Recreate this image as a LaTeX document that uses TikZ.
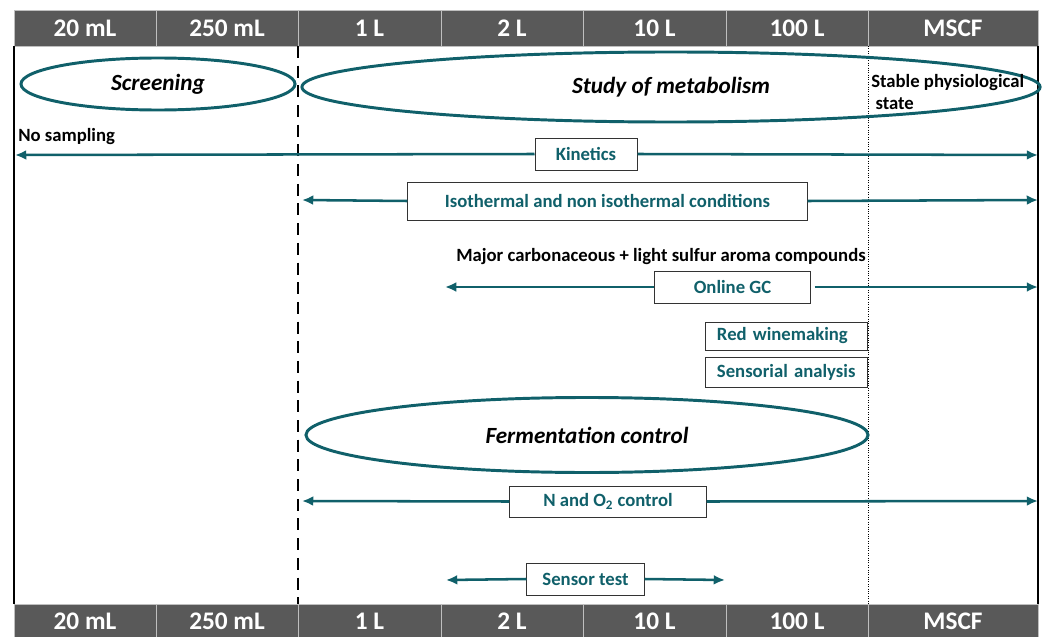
\documentclass[tikz,border=0pt]{standalone}
\usepackage{fontspec}
\setmainfont{Carlito}
\usepackage{tikz}
\usetikzlibrary{shapes,arrows,positioning,calc,arrows.meta}
\definecolor{wineteal}{RGB}{16,96,106}
\definecolor{bargray}{RGB}{89,89,89}
\tikzset{
  cellbox/.style={fill=bargray, draw=white!75!black, line width=0.6pt},
  celltext/.style={text=white, inner sep=0pt, font=\fontsize{18}{20}\selectfont\bfseries},
  phase/.style={ellipse, draw=wineteal, line width=2.1pt, inner sep=0pt, font=\fontsize{16.5}{18}\selectfont\bfseries\itshape},
  tagbox/.style={draw=black!80, fill=white, line width=0.7pt, text=wineteal, inner sep=0pt, font=\fontsize{13.3}{15}\selectfont\bfseries},
  note/.style={inner sep=0pt, font=\fontsize{13.3}{15}\selectfont\bfseries},
  arr/.style={draw=wineteal, line width=1.8pt, -{Latex[length=8pt,width=7pt]}},
}

\begin{document}
\begin{tikzpicture}[x=0.025cm, y=-0.025cm]
    \useasboundingbox (0,0) rectangle (1046,637);

    % volume scale, top and bottom
    \foreach \a/\b/\lab [count=\i] in {14/156/20 mL, 156/298/250 mL, 298/441/1 L, 441/583/2 L, 583/726/10 L, 726/868/100 L, 868/1038/MSCF} {
        \draw[cellbox] (\a,10) rectangle (\b,46);
        \node[celltext] (top\i) at ({(\a+\b)/2},28) {\lab};
        \draw[cellbox] (\b,637) rectangle (\a,604);
        \node[celltext] (bot\i) at ({(\a+\b)/2},621) {\lab};
    }

    % frame and limits
    \draw[line width=1.1pt] (14,46) -- (14,604);
    \draw[line width=1.1pt] (1038,46) -- (1038,604);
    \draw[line width=2pt, dash pattern=on 8.5pt off 5.5pt] (298,46) -- (298,604);
    \draw[line width=0.7pt, densely dotted] (868,46) -- (868,604);

    % phases
    \node[phase, minimum width=6.85cm, minimum height=1.3cm] (screen) at (158,84) {Screening};
    \node[phase, minimum width=18.45cm, minimum height=1.75cm] (metab) at (671,87) {Study of metabolism};
    \node[phase, minimum width=14.05cm, minimum height=1.875cm] (ferm) at (587,435) {Fermentation control};
    \node[note, anchor=west, align=left] (stable) at (871,92) {Stable physiological\\\hspace{3pt}state};

    % kinetics
    \node[note, anchor=west] (nosamp) at (18,137) {No sampling};
    \node[tagbox, minimum width=2.55cm, minimum height=0.8cm] (kin) at (586,154) {Kinetics};
    \coordinate (kinL) at (15,155);
    \coordinate (kinR) at (1038,155);
    \draw[arr] (kin.west) -- (kinL);
    \draw[arr] (kin.east) -- (kinR);

    % temperature
    \node[tagbox, minimum width=9.975cm, minimum height=0.95cm] (iso) at (607.5,201) {Isothermal and non isothermal conditions};
    \coordinate (isoL) at (302,200);
    \coordinate (isoR) at (1038,200);
    \draw[arr] (iso.west) -- (isoL);
    \draw[arr] (iso.east) -- (isoR);

    % aroma
    \node[note] (aroma) at (661,257) {Major carbonaceous + light sulfur aroma compounds};
    \node[tagbox, minimum width=3.875cm, minimum height=0.8cm] (gc) at (732.5,287) {Online GC};
    \coordinate (gcL) at (445,287);
    \coordinate (gcR) at (1038,287);
    \draw[arr] (gc.west) -- (gcL);
    \draw[arr] ([xshift=3pt]gc.east) -- (gcR);

    \node[tagbox, minimum width=4.025cm, minimum height=0.7cm, text width=3.475cm, inner xsep=0.275cm, align=left] (red) at (786.5,336) {Red winemaking};
    \node[tagbox, minimum width=4.025cm, minimum height=0.75cm, text width=3.475cm, inner xsep=0.275cm, align=left] (senso) at (786.5,372) {Sensorial analysis};

    % control
    \node[tagbox, minimum width=4.9cm, minimum height=0.775cm] (nox) at (608,501.5) {N and O\textsubscript{2} control};
    \coordinate (noxL) at (302,501);
    \coordinate (noxR) at (1038,501);
    \draw[arr] (nox.west) -- (noxL);
    \draw[arr] (nox.east) -- (noxR);

    \node[tagbox, minimum width=2.925cm, minimum height=0.8cm] (sens) at (585.5,579) {Sensor test};
    \coordinate (sensL) at (446,580);
    \coordinate (sensR) at (725,580);
    \draw[arr] (sens.west) -- (sensL);
    \draw[arr] (sens.east) -- (sensR);
\end{tikzpicture}
\end{document}
